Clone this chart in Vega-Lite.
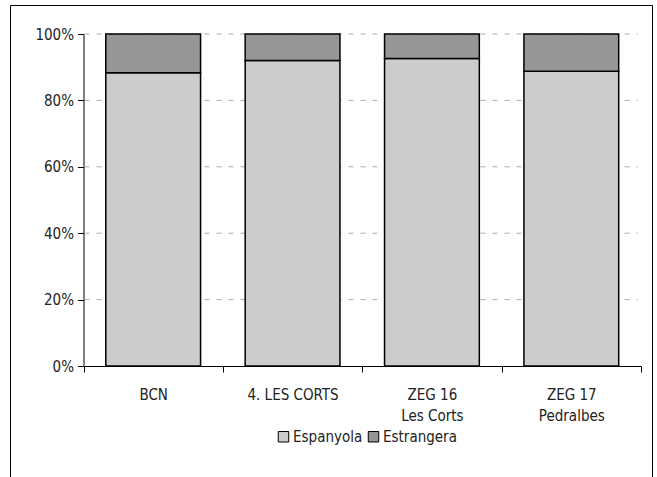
{
  "$schema": "https://vega.github.io/schema/vega-lite/v6.json",
  "width": 642,
  "height": 473,
  "autosize": "none",
  "padding": {"left": 10, "top": 5, "right": 5, "bottom": -1},
  "background": "white",
  "config": {
    "view": {"stroke": "black", "strokeWidth": 1},
    "font": "DejaVu Sans Condensed"
  },
  "datasets": {
    "bars": [
      {"area": "BCN", "origen": "Espanyola", "ord": 1, "pct": 88.3},
      {"area": "BCN", "origen": "Estrangera", "ord": 2, "pct": 11.7},
      {"area": "4. LES CORTS", "origen": "Espanyola", "ord": 1, "pct": 92.0},
      {"area": "4. LES CORTS", "origen": "Estrangera", "ord": 2, "pct": 8.0},
      {"area": "ZEG 16\nLes Corts", "origen": "Espanyola", "ord": 1, "pct": 92.6},
      {"area": "ZEG 16\nLes Corts", "origen": "Estrangera", "ord": 2, "pct": 7.4},
      {"area": "ZEG 17\nPedralbes", "origen": "Espanyola", "ord": 1, "pct": 88.8},
      {"area": "ZEG 17\nPedralbes", "origen": "Estrangera", "ord": 2, "pct": 11.2}
    ],
    "grid": [{"v": 0.2}, {"v": 0.4}, {"v": 0.6}, {"v": 0.8}, {"v": 1.0}]
  },
  "layer": [
    {
      "data": {"name": "grid"},
      "mark": {"type": "rule", "stroke": "#aaaaaa", "strokeDash": [5, 7], "strokeWidth": 1},
      "encoding": {
        "y": {"field": "v", "type": "quantitative", "scale": {"domain": [0, 1], "range": [361, 29]}, "axis": null},
        "x": {"datum": 0, "type": "quantitative", "scale": {"domain": [0, 1], "range": [74.5, 628]}, "axis": null},
        "x2": {"datum": 1}
      }
    },
    {
      "data": {"name": "bars"},
      "mark": {"type": "bar", "stroke": "black", "strokeWidth": 1.5, "width": {"band": 0.68}},
      "encoding": {
        "x": {
          "field": "area", "type": "nominal", "sort": null,
          "scale": {"range": [73.5, 631], "paddingInner": 0, "paddingOuter": 0},
          "axis": {
            "title": null, "orient": "bottom", "offset": -112, "tickBand": "extent",
            "labelAngle": 0, "labelExpr": "split(datum.label, '\\n')",
            "labelFontSize": 15, "labelColor": "#222222", "labelPadding": 15, "labelLineHeight": 21,
            "domainColor": "black", "tickColor": "black", "tickSize": 6, "grid": false
          }
        },
        "y": {
          "field": "pct", "type": "quantitative", "stack": "normalize",
          "scale": {"domain": [0, 1], "range": [361, 29]},
          "axis": {
            "title": null, "offset": -73.5, "format": ".0%", "values": [0, 0.2, 0.4, 0.6, 0.8, 1],
            "grid": false, "domainColor": "black", "tickColor": "black", "tickSize": 6,
            "labelFontSize": 15, "labelColor": "#222222", "labelPadding": 4
          }
        },
        "color": {
          "field": "origen", "type": "nominal",
          "scale": {"domain": ["Espanyola", "Estrangera"], "range": ["#cccccc", "#969696"]},
          "legend": {
            "title": null, "orient": "none", "legendX": 266, "legendY": 424, "direction": "horizontal",
            "symbolType": "square", "symbolSize": 110, "symbolStrokeColor": "black", "symbolStrokeWidth": 1,
            "symbolOpacity": 1, "labelFontSize": 15, "labelColor": "#222222", "labelOffset": 2, "columnPadding": 3
          }
        },
        "order": {"field": "ord", "type": "quantitative"}
      }
    }
  ],
  "resolve": {"scale": {"x": "independent", "y": "independent"}}
}
